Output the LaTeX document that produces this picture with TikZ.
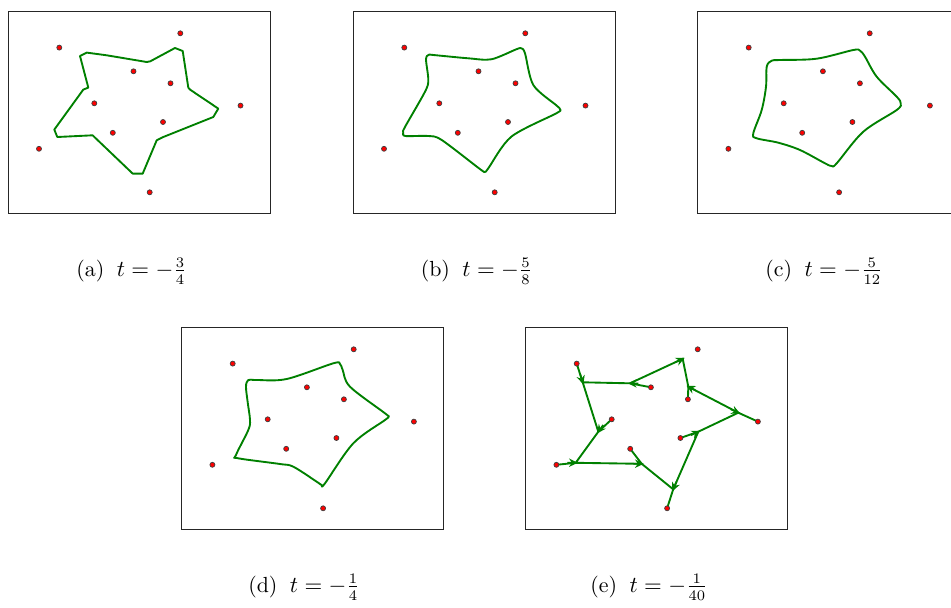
\documentclass[tikz,border=0pt]{standalone}
\usetikzlibrary{arrows.meta,calc}
\begin{document}
\begin{tikzpicture}[x=0.48pt,y=-0.48pt,
  frame/.style={draw=black!85,line width=0.5pt},
  curve/.style={draw=green!50!black,line width=0.9pt,line join=round},
  seg/.style={draw=green!50!black,line width=0.9pt},
  tipmark/.style={draw=green!50!black,line width=0.8pt,-{Stealth[length=4.2pt,width=4pt]}},
  captext/.style={font=\fontsize{10.5}{12.6}\selectfont,inner sep=0pt}]
\useasboundingbox (0,0) rectangle (951,607);
\newcommand\mypoints{%
  \foreach \px/\py in {51/36.3,172/22,125.2/60,162.2/72,86/92,232.2/94.3,154.7/110.7,104.5/121.5,30.7/137.5,141.4/181}{
    \filldraw[fill=red,draw=black!75,line width=0.35pt] (\px,\py) circle (2.5);
  }}
\newcommand\tipat[2]{\draw[tipmark] ($(#1)!-4pt!(#2)$) -- ($(#1)!1pt!(#2)$);}
% ---------- (a)
\begin{scope}[shift={(8.3,11.3)}]
  \draw[frame] (0,0) rectangle (262,202);
  \draw[curve] (71.7,44.7) -- (78.4,41.3) -- (98.4,44) -- (138.4,50.7) -- (142,50) -- (166.7,36.7) -- (174.4,39.7) -- (180,76.3) -- (181.7,78.3) -- (210,97.3) -- (205,105.7) -- (155,125.7) -- (148.4,129) -- (134.4,162.3) -- (124.4,162.3) -- (86.7,126.3) -- (84.4,124) -- (49,125.7) -- (46,118.3) -- (75,78.3) -- (80,76.3) -- cycle;
  \mypoints
\end{scope}
% ---------- (b)
\begin{scope}[shift={(353.3,11.3)}]
  \draw[frame] (0,0) rectangle (262,202);
  \draw[curve] plot[smooth cycle,tension=0.5] coordinates {(72.7,48) (75.5,43.5) (80,43.7) (115,47) (138,48) (163,38) (168,37) (171.7,42) (180,73.7) (203,94) (206.7,98) (203,102) (158,125.4) (135,157) (131.7,160.4) (127,158) (88.4,128.7) (75,124.7) (52,124.7) (50,121) (51.5,116) (71.7,80.4) (75,68.7)};
  \mypoints
\end{scope}
% ---------- (c)
\begin{scope}[shift={(697.7,11.3)}]
  \draw[frame] (0,0) rectangle (262,202);
  \draw[curve] plot[smooth cycle,tension=0.55] coordinates {(69,55.4) (74,49.4) (82.3,48.7) (119,47.4) (155.6,38.7) (162.3,39.4) (167.3,45.4) (179,65.4) (199,85.4) (203,92) (199,98.7) (165.6,120.4) (139,152) (134,154.7) (127.3,152) (102.3,138.7) (80.6,131.4) (59,127) (55.6,122) (64,98.7) (68.3,75.4)};
  \mypoints
\end{scope}
% ---------- (d)
\begin{scope}[shift={(181.7,327.3)}]
  \draw[frame] (0,0) rectangle (262,202);
  \draw[curve] plot[smooth cycle,tension=0.55] coordinates {(64.3,59.4) (66.6,52.7) (75,52.7) (105,51.7) (151.6,36) (158.3,36.7) (161,42.7) (168.3,59.4) (203.3,86) (206.6,89.4) (203.3,92.7) (171.6,116) (143.3,156) (140,157.7) (135,154.4) (111.6,139.4) (98.3,136.7) (56.6,131) (54.3,127.7) (66.6,102.7) (68.3,92.7) (66,75)};
  \mypoints
\end{scope}
% ---------- (e)
\begin{scope}[shift={(525.7,327.3)}]
  \draw[frame] (0,0) rectangle (262,202);
  \coordinate (J1) at (57,55);
  \coordinate (J2) at (104.3,56);
  \coordinate (J3) at (157,31.5);
  \coordinate (J4) at (162.6,59.4);
  \coordinate (J5) at (212.6,85.4);
  \coordinate (J6) at (172.6,104.4);
  \coordinate (J7) at (147.5,162);
  \coordinate (J8) at (116,136.5);
  \coordinate (J9) at (50,135.5);
  \coordinate (J10) at (72.6,104.4);
  \coordinate (Q1) at (51,36.3);
  \coordinate (Q3) at (125.2,60);
  \coordinate (Q4) at (162.2,72);
  \coordinate (Q5) at (86,92);
  \coordinate (Q6) at (232.2,94.3);
  \coordinate (Q7) at (154.7,110.7);
  \coordinate (Q8) at (104.5,121.5);
  \coordinate (Q9) at (30.7,137.5);
  \coordinate (Q10) at (141.4,181);
  \coordinate (D3) at ($(J2)!2!(J3)$);
  \coordinate (D4) at ($(J5)!2!(J4)$);
  \coordinate (D7) at ($(J6)!2!(J7)$);
  \coordinate (D8) at ($(J9)!2!(J8)$);
  \draw[seg] (J1) -- (J2) -- (J3) -- (J4) -- (J5) -- (J6) -- (J7) -- (J8) -- (J9) -- (J10) -- cycle;
  \draw[seg] (J1) -- (Q1) (J2) -- (Q3) (J4) -- (Q4) (J5) -- (Q6) (J6) -- (Q7) (J7) -- (Q10) (J8) -- (Q8) (J9) -- (Q9) (J10) -- (Q5);
  \tipat{J1}{J10}
  \tipat{J2}{J1}
  \tipat{J3}{D3}
  \tipat{J4}{D4}
  \tipat{J5}{Q6}
  \tipat{J6}{J5}
  \tipat{J7}{D7}
  \tipat{J8}{D8}
  \tipat{J9}{J8}
  \tipat{J10}{J9}
  \mypoints
\end{scope}
% ---------- captions
\node[captext] (capa) at (131.5,271) {(a)\hspace{6pt}$t=-\frac{3}{4}$};
\node[captext] (capb) at (476.5,271) {(b)\hspace{6pt}$t=-\frac{5}{8}$};
\node[captext] (capc) at (824,271) {(c)\hspace{6pt}$t=-\frac{5}{12}$};
\node[captext] (capd) at (304,587) {(d)\hspace{6pt}$t=-\frac{1}{4}$};
\node[captext] (cape) at (649,587) {(e)\hspace{6pt}$t=-\frac{1}{40}$};
\end{tikzpicture}
\end{document}
